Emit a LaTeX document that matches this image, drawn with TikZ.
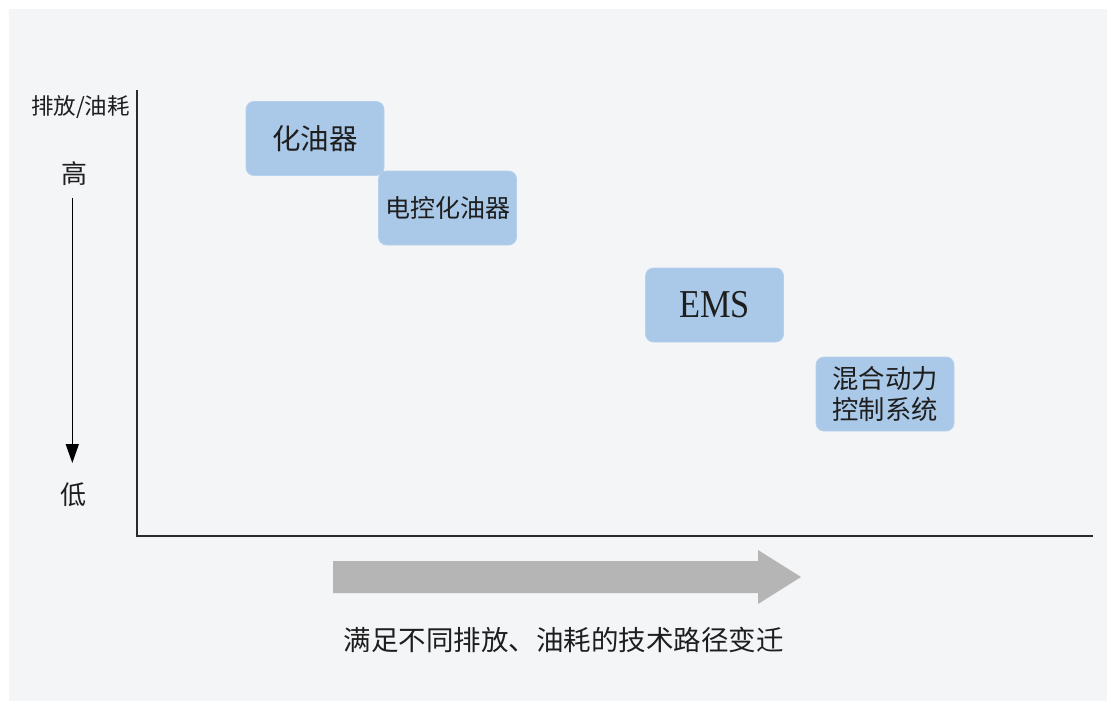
\documentclass[tikz,border=0pt]{standalone}
\usepackage{fontspec}
\setmainfont{Noto Sans CJK SC}
\newfontfamily\emsfont[FakeStretch=0.87]{Liberation Serif}
\usetikzlibrary{arrows.meta}
\definecolor{panelbg}{HTML}{F4F5F7}
\definecolor{boxfill}{HTML}{AAC8E8}
\definecolor{axiscol}{HTML}{2B2B2B}
\definecolor{bigarrow}{HTML}{B4B5B4}
\definecolor{txt}{HTML}{1E1E1E}
\tikzset{
  stagebox/.style={fill=boxfill, draw=boxfill!85!white, line width=0.8pt, rounded corners=8pt,
    minimum width=138pt, minimum height=74pt, inner sep=0pt, text=txt, align=center},
  lbl/.style={text=txt, inner sep=0pt},
  axisline/.style={draw=axiscol, line width=2pt},
}
\begin{document}
\begin{tikzpicture}[x=1pt,y=-1pt]
\useasboundingbox (0,0) rectangle (1107,701);
\fill[panelbg] (9,9) rectangle (1107,701);
% axes
\coordinate (ytop) at (137,90);
\coordinate (xend) at (1092.5,535.7);
\draw[axisline] (ytop) |- (xend);
% y-axis labels
\node[lbl, font=\fontsize{22.5}{26}\selectfont] (ylab) at (80.5,107.5) {排放/油耗};
\node[lbl, font=\fontsize{26}{30}\selectfont] (gao) at (74,173.5) {高};
\node[lbl, font=\fontsize{26}{30}\selectfont] (di) at (73.5,494.5) {低};
\coordinate (arrs) at (72.3,198);
\coordinate (arre) at (72.3,463);
\draw[black, line width=1.5pt, -{Triangle[length=19pt,width=13pt]}] (arrs) -- (arre);
% stage boxes
\node[stagebox, font=\fontsize{28.5}{33}\selectfont] (carb) at (315,138.5) {化油器};
\node[stagebox, font=\fontsize{25}{30}\selectfont] (ecarb) at (447.5,208) {电控化油器};
\node[stagebox, font=\emsfont\fontsize{39.5}{44}\selectfont] (ems) at (714.5,305) {EMS};
\node[stagebox, font=\fontsize{26.3}{31.5}\selectfont] (hyb) at (885,394) {混合动力\\控制系统};
% big gray arrow
\fill[bigarrow] (333,561) -- (758,561) -- (758,550) -- (801,577) -- (758,604) -- (758,593) -- (333,593) -- cycle;
\node[lbl, font=\fontsize{27.5}{32}\selectfont] (cap) at (563.5,639.5) {满足不同排放、油耗的技术路径变迁};
\end{tikzpicture}
\end{document}
